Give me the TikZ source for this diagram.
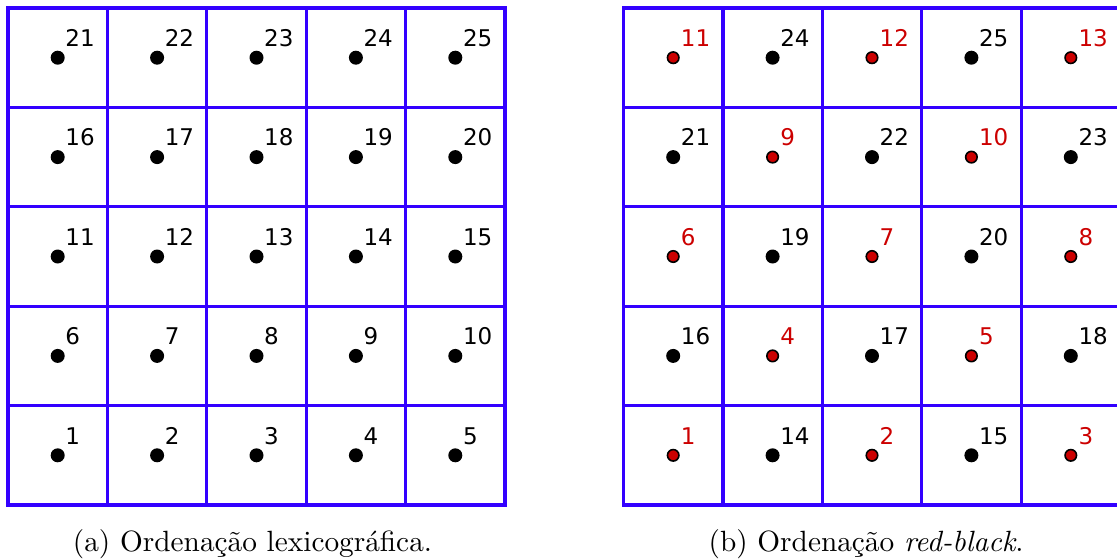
\documentclass[tikz,border=0pt]{standalone}
\usepackage{fontspec}
\newfontfamily\numfont{DejaVu Sans}
\definecolor{gridblue}{RGB}{51,0,255}
\definecolor{rbred}{RGB}{204,0,0}
\tikzset{
  gridline/.style={draw=gridblue, line width=3.2pt},
  bdot/.style={circle, fill=black, minimum size=14pt, inner sep=0pt},
  rdot/.style={circle, fill=rbred, draw=black, line width=1.6pt, minimum size=11.5pt, inner sep=0pt},
  numlbl/.style={anchor=base west, inner sep=0pt, font=\numfont\fontsize{23}{23}\selectfont},
  redlbl/.style={numlbl, text=rbred},
  caption/.style={anchor=base, inner sep=0pt}
}
\begin{document}
\begin{tikzpicture}[x=1pt,y=-1pt]
\useasboundingbox (0,0) rectangle (1117,558);
% grids
\foreach \gx/\g in {8/a,623.5/b}{
  \draw[gridline] (\gx,8) rectangle (\gx+497,505);
  \foreach \i in {1,...,4}{
    \draw[gridline] (\gx+\i*99.4,8) -- (\gx+\i*99.4,505);
    \draw[gridline] (\gx,8+\i*99.4) -- (\gx+497,8+\i*99.4);
  }
}
% lexicographic
\foreach \r in {0,...,4}{
  \foreach \k in {0,...,4}{
    \pgfmathsetmacro\cx{8+(\k+0.5)*99.4}
    \pgfmathsetmacro\cy{505-(\r+0.5)*99.4}
    \pgfmathtruncatemacro\n{5*\r+\k+1}
    \node[bdot] (a-\r-\k) at (\cx,\cy) {};
    \node[numlbl] (la-\r-\k) at ([shift={(7.5,-11.3)}]a-\r-\k.center) {\n};
  }
}
% red-black
\foreach \r in {0,...,4}{
  \foreach \k in {0,...,4}{
    \pgfmathsetmacro\cx{623.5+(\k+0.5)*99.4}
    \pgfmathsetmacro\cy{505-(\r+0.5)*99.4}
    \pgfmathtruncatemacro\hu{(\r+1)/2}
    \pgfmathtruncatemacro\hd{\r/2}
    \pgfmathtruncatemacro\kh{\k/2}
    \pgfmathtruncatemacro\rbp{mod(\r+\k,2)}
    \ifnum\rbp=0
      \pgfmathtruncatemacro\n{3*\hu+2*\hd+\kh+1}
      \node[rdot] (b-\r-\k) at (\cx,\cy) {};
      \node[redlbl] (lb-\r-\k) at ([shift={(7.5,-11.3)}]b-\r-\k.center) {\n};
    \else
      \pgfmathtruncatemacro\n{13+2*\hu+3*\hd+\kh+1}
      \node[bdot] (b-\r-\k) at (\cx,\cy) {};
      \node[numlbl] (lb-\r-\k) at ([shift={(7.5,-11.3)}]b-\r-\k.center) {\n};
    \fi
  }
}
\node[caption] (capa) at (252.5,551.5) {\scalebox{2.93}{\fontsize{10}{12}\selectfont (a) Ordenação lexicográfica.}};
\node[caption] (capb) at (866,551.5) {\scalebox{2.93}{\fontsize{10}{12}\selectfont (b) Ordenação \emph{red-black}.}};
\end{tikzpicture}
\end{document}
